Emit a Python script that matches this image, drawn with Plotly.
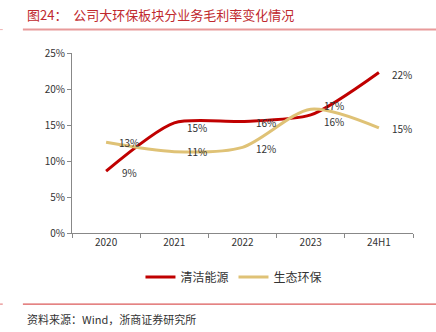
import plotly.graph_objects as go

# Gross margin by business segment
periods = ["2020", "2021", "2022", "2023", "24H1"]
clean_energy = [0.086, 0.153, 0.155, 0.164, 0.223]
eco_env = [0.126, 0.113, 0.119, 0.172, 0.146]
clean_labels = ["9%", "15%", "16%", "16%", "22%"]
eco_labels = ["13%", "11%", "12%", "17%", "15%"]

RED = "#C00000"
TAN = "#DFC276"
FONT = "Noto Sans CJK SC"

fig = go.Figure()
fig.add_trace(go.Scatter(
    x=periods, y=clean_energy, name="清洁能源", mode="lines",
    line=dict(color=RED, width=3, shape="spline", smoothing=0.7),
))
fig.add_trace(go.Scatter(
    x=periods, y=eco_env, name="生态环保", mode="lines",
    line=dict(color=TAN, width=3, shape="spline", smoothing=0.8),
))

# value labels sit to the right of each point (category index keeps
# year-like names from being read as numbers)
label_ann = []
clean_dy = [-1, -5, -1, -7, -2]
eco_dy = [0, 0, -1, 4, -1]
for ys, labels, dys in ((clean_energy, clean_labels, clean_dy),
                        (eco_env, eco_labels, eco_dy)):
    for i, (yv, t, dy) in enumerate(zip(ys, labels, dys)):
        label_ann.append(dict(
            x=i, y=yv, xref="x", yref="y", text=t, showarrow=False,
            xanchor="center", yanchor="middle", xshift=23, yshift=dy,
            font=dict(family=FONT, size=10, color="#333333"),
        ))

fig.update_layout(
    width=436, height=332,
    margin=dict(l=72, r=23, t=53, b=99),
    paper_bgcolor="white", plot_bgcolor="white",
    font=dict(family=FONT, size=10, color="#333333"),
    showlegend=True,
    legend=dict(orientation="h", x=0.475, xanchor="center", y=-0.245, yanchor="middle",
                font=dict(size=12, color="#333333", family=FONT),
                itemwidth=30, tracegroupgap=0),
    xaxis=dict(
        type="category", range=[-0.5, 4.5], tickson="boundaries",
        showline=True, linecolor="#888888", linewidth=1,
        ticks="outside", ticklen=4, tickcolor="#888888",
        showgrid=False, tickfont=dict(size=10, color="#333333"),
    ),
    yaxis=dict(
        range=[0, 0.25], dtick=0.05, tickformat=".0%",
        showline=True, linecolor="#888888", linewidth=1,
        ticks="outside", ticklen=4, tickcolor="#888888",
        showgrid=False, zeroline=False, tickfont=dict(size=10, color="#333333"),
    ),
    shapes=[
        dict(type="line", xref="paper", yref="paper", x0=-0.144, x1=1.07,
             y0=1.13, y1=1.13, line=dict(color="#E89A9A", width=2)),
        dict(type="line", xref="paper", yref="paper", x0=-0.211, x1=-0.203,
             y0=1.13, y1=1.13, line=dict(color="#F0B0B0", width=1)),
        dict(type="line", xref="paper", yref="paper", x0=-0.144, x1=1.07,
             y0=-0.395, y1=-0.395, line=dict(color="#D23030", width=1)),
        dict(type="line", xref="paper", yref="paper", x0=-0.211, x1=-0.203,
             y0=-0.395, y1=-0.395, line=dict(color="#E07070", width=1)),
    ],
    annotations=label_ann + [
        dict(text="图24：  公司大环保板块分业务毛利率变化情况", xref="paper", yref="paper",
             x=0, xshift=-47, y=1.215, xanchor="left", yanchor="middle", align="left",
             showarrow=False, font=dict(family=FONT, size=13, color="#C0282D")),
        dict(text="资料来源：Wind，浙商证券研究所", xref="paper", yref="paper",
             x=0, xshift=-47, y=-0.475, xanchor="left", yanchor="middle", align="left",
             showarrow=False, font=dict(family=FONT, size=11, color="#333333")),
    ],
)

fig.write_html("out.html")
